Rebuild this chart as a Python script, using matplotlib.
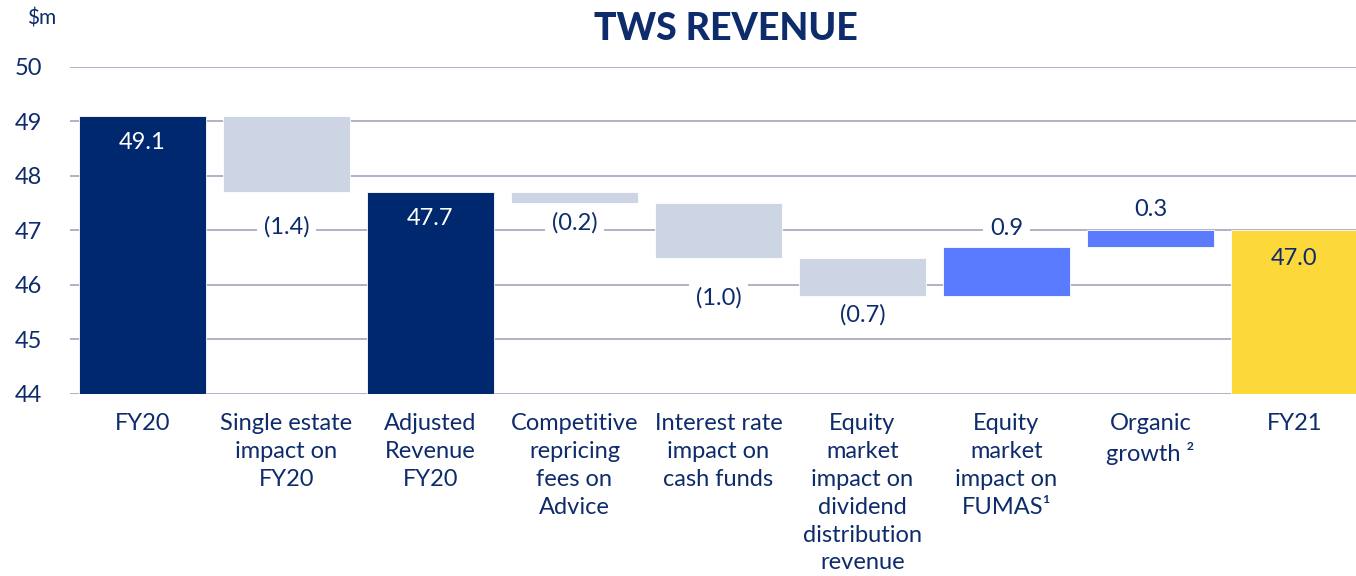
import numpy as np
import matplotlib.pyplot as plt

categories = ["FY20", "Single estate\nimpact on\nFY20", "Adjusted\nRevenue\nFY20",
              "Competitive\nrepricing\nfees on\nAdvice", "Interest rate\nimpact on\ncash funds",
              "Equity\nmarket\nimpact on\ndividend\ndistribution\nrevenue",
              "Equity\nmarket\nimpact on\nFUMAS\u00b9", "Organic\ngrowth \u00b2", "FY21"]
values = [49.1, -1.4, 47.7, -0.2, -1.0, -0.7, 0.9, 0.3, 47.0]
is_total = [True, False, True, False, False, False, False, False, True]

# label offsets in points from the bar end (style only)
label_offsets = [-19, -25, -19, -14, -29, -14, 13, 15, -20]

NAVY = "#00286E"
TEXT = "#0E2C6C"
LIGHT = "#CDD4E3"
BLUE = "#5B7BFE"
YELLOW = "#FDD83A"
GRID = "#A9ABC2"

plt.rcParams['font.family'] = ['Lato', 'DejaVu Sans']

fig = plt.figure(figsize=(13.56, 5.76), dpi=100)
ax = fig.add_axes([0.0516, 0.316, 0.9484, 0.568])

# waterfall bottoms/tops
bottoms, tops, colors = [], [], []
running = 0.0
for i, (v, tot) in enumerate(zip(values, is_total)):
    if tot:
        running = v
        bottoms.append(0)
        tops.append(v)
        colors.append(YELLOW if i == len(values) - 1 else NAVY)
    else:
        lo, hi = sorted([running, running + v])
        bottoms.append(lo)
        tops.append(hi)
        colors.append(LIGHT if v < 0 else BLUE)
        running += v

x = np.arange(len(categories))
heights = np.array(tops) - np.array(bottoms)
ax.bar(x, heights, bottom=bottoms, width=0.88, color=colors, zorder=2,
       edgecolor='white', linewidth=0.6)

for i, v in enumerate(values):
    if is_total[i]:
        txt = f"{v:.1f}"
        anchor = tops[i]
        col = TEXT if i == len(values) - 1 else 'white'
        bbox = None
    elif v < 0:
        txt = f"({abs(v):.1f})"
        anchor = bottoms[i]
        col = TEXT
        bbox = dict(facecolor='white', edgecolor='none', pad=5)
    else:
        txt = f"{v:.1f}"
        anchor = tops[i]
        col = TEXT
        bbox = dict(facecolor='white', edgecolor='none', pad=5)
    ax.annotate(txt, (x[i], anchor), xytext=(0, label_offsets[i]), textcoords='offset points',
                ha='center', va='center', fontsize=17, color=col, bbox=bbox, zorder=4)

ax.set_ylim(44, 50)
ax.set_xlim(-0.503, 8.427)
ax.set_yticks(range(44, 51))
ax.yaxis.grid(True, color=GRID, linewidth=1.3, zorder=0)
ax.set_axisbelow(True)
for s in ax.spines.values():
    s.set_visible(False)
ax.tick_params(axis='y', length=0, pad=20, labelsize=17, labelcolor=TEXT)
ax.tick_params(axis='x', length=0, pad=14, labelsize=17, labelcolor=TEXT)
ax.set_xticks(x)
ax.set_xticklabels(categories, linespacing=1.4, va='top')

fig.text(0.0199, 0.968, "$m", fontsize=15, color=TEXT, ha='left', va='center')
fig.text(0.535, 0.95, "TWS REVENUE", fontsize=27, fontweight='black', color=TEXT,
         ha='center', va='center')

fig.savefig("out.png", dpi=100)
